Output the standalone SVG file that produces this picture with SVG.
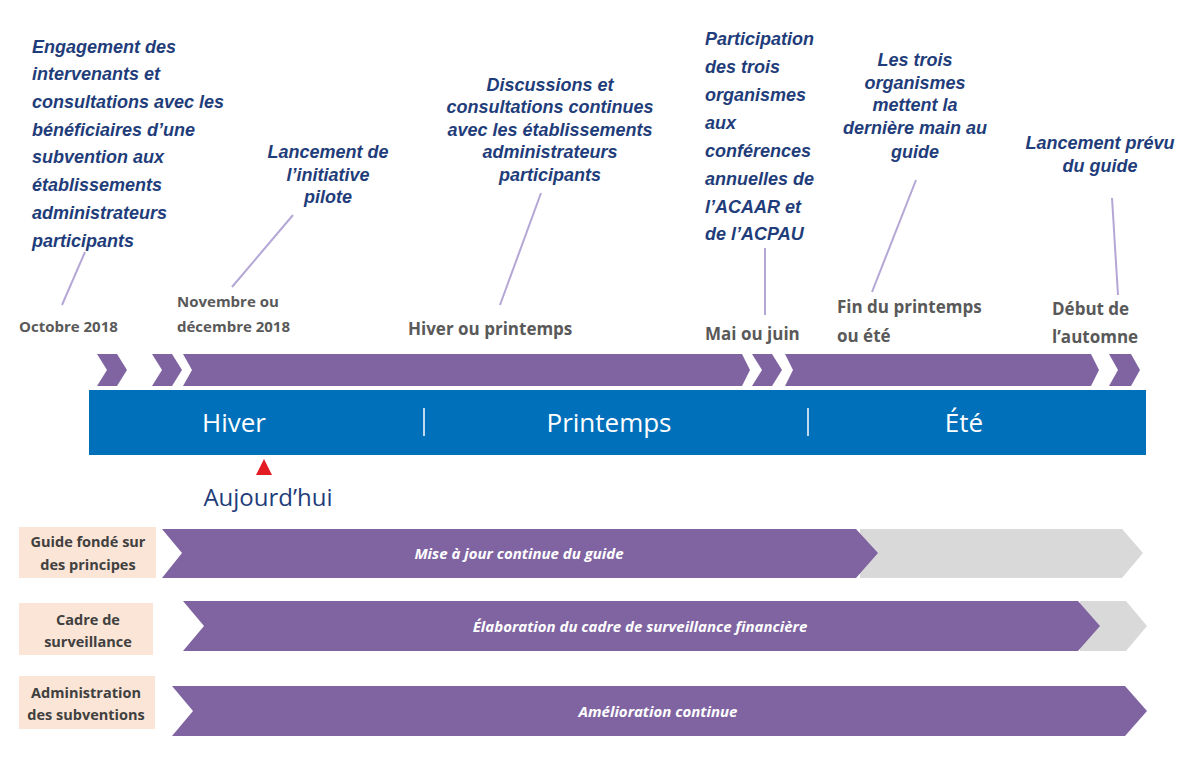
<svg xmlns="http://www.w3.org/2000/svg" width="1190" height="780" viewBox="0 0 1190 780">
<style>
.co{font-family:"Liberation Sans",Arial,sans-serif;font-weight:bold;font-style:italic;font-size:18px;fill:#1F3D7A}
.dt{font-family:"Open Sans","Liberation Sans",sans-serif;font-weight:bold;fill:#595959}
.ss{font-family:"Open Sans","Liberation Sans",sans-serif;font-size:26px;fill:#fff}
.pu{fill:#8064A2}
.gr{fill:#D9D9D9}
.rl{font-family:"Open Sans","Liberation Sans",sans-serif;font-weight:bold;font-size:14.5px;fill:#404040}
.bx{fill:#FBE5D6}
.at{font-family:"Open Sans","Liberation Sans",sans-serif;font-weight:bold;font-style:italic;font-size:15px;fill:#fff}
.ln{stroke:#B4A7D6;stroke-width:2;fill:none}
</style>
<rect width="1190" height="780" fill="#fff"/>
<g id="connectors">
<line class="ln" x1="62" y1="305" x2="85" y2="252"/>
<line class="ln" x1="232" y1="287" x2="293" y2="215"/>
<line class="ln" x1="500" y1="305" x2="541" y2="193"/>
<line class="ln" x1="765" y1="315" x2="765" y2="248"/>
<line class="ln" x1="872" y1="292" x2="916" y2="180"/>
<line class="ln" x1="1118" y1="295" x2="1112" y2="198"/>
</g>
<g id="callout1" class="co">
<text x="32" y="53">Engagement des</text>
<text x="32" y="80">intervenants et</text>
<text x="32" y="108">consultations avec les</text>
<text x="32" y="136">bénéficiaires d’une</text>
<text x="32" y="163">subvention aux</text>
<text x="32" y="191">établissements</text>
<text x="32" y="219">administrateurs</text>
<text x="32" y="247">participants</text>
</g>
<g id="callout2" class="co" text-anchor="middle">
<text x="328" y="158">Lancement de</text>
<text x="328" y="181">l’initiative</text>
<text x="328" y="203">pilote</text>
</g>
<g id="callout3" class="co" text-anchor="middle">
<text x="550" y="91">Discussions et</text>
<text x="550" y="113">consultations continues</text>
<text x="550" y="136">avec les établissements</text>
<text x="550" y="158">administrateurs</text>
<text x="550" y="181">participants</text>
</g>
<g id="callout4" class="co">
<text x="705" y="45">Participation</text>
<text x="705" y="73">des trois</text>
<text x="705" y="101">organismes</text>
<text x="705" y="129">aux</text>
<text x="705" y="157">conférences</text>
<text x="705" y="185">annuelles de</text>
<text x="705" y="213">l’ACAAR et</text>
<text x="705" y="240">de l’ACPAU</text>
</g>
<g id="callout5" class="co" text-anchor="middle">
<text x="915" y="66">Les trois</text>
<text x="915" y="89">organismes</text>
<text x="915" y="111">mettent la</text>
<text x="915" y="134">dernière main au</text>
<text x="915" y="158">guide</text>
</g>
<g id="callout6" class="co" text-anchor="middle">
<text x="1100" y="149">Lancement prévu</text>
<text x="1100" y="172">du guide</text>
</g>
<g id="dates" class="dt">
<text x="19" y="332" font-size="15">Octobre 2018</text>
<text x="177" y="307" font-size="15">Novembre ou</text>
<text x="177" y="332" font-size="15">décembre 2018</text>
<text x="408" y="335" font-size="17">Hiver ou printemps</text>
<text x="705" y="340" font-size="17">Mai ou juin</text>
<text x="837" y="313" font-size="17">Fin du printemps</text>
<text x="837" y="342" font-size="17">ou été</text>
<text x="1052" y="315" font-size="17">Début de</text>
<text x="1052" y="343" font-size="17">l’automne</text>
</g>
<g id="chevrons" class="pu">
<polygon points="97,354 117,354 127,370 117,386 97,386 107,370"/>
<polygon points="152,354 172,354 182,370 172,386 152,386 162,370"/>
<polygon points="183,354 742,354 750,370 742,386 183,386 192,370"/>
<polygon points="752,354 772,354 782,370 772,386 752,386 762,370"/>
<polygon points="785,354 1091,354 1099,370 1091,386 785,386 793,370"/>
<polygon points="1109,354 1131,354 1140,370 1131,386 1109,386 1118,370"/>
</g>
<g id="seasons">
<rect x="89" y="390" width="1057" height="65" fill="#0070BA"/>
<line x1="424" y1="408" x2="424" y2="436" stroke="#fff" stroke-width="1.5"/>
<line x1="808" y1="408" x2="808" y2="436" stroke="#fff" stroke-width="1.5"/>
<text class="ss" x="234" y="432" text-anchor="middle">Hiver</text>
<text class="ss" x="609" y="432" text-anchor="middle">Printemps</text>
<text class="ss" x="964" y="432" text-anchor="middle">Été</text>
</g>
<g id="today">
<polygon points="264,459 272,475 256,475" fill="#E31B23"/>
<text x="268" y="506" text-anchor="middle" font-family="'Open Sans','Liberation Sans',sans-serif" font-size="24" fill="#1F3D7A">Aujourd’hui</text>
</g>
<g id="row1">
<rect class="bx" x="19" y="527" width="137" height="51"/>
<text class="rl" x="88" y="547" text-anchor="middle">Guide fondé sur</text>
<text class="rl" x="88" y="570" text-anchor="middle">des principes</text>
<polygon class="gr" points="860,529 1122,529 1143,553 1122,578 860,578"/>
<polygon class="pu" points="162,529 856,529 878,553 856,578 162,578 182,553"/>
<text class="at" x="519" y="559" text-anchor="middle">Mise à jour continue du guide</text>
</g>
<g id="row2">
<rect class="bx" x="19" y="603" width="134" height="52"/>
<text class="rl" x="88" y="625" text-anchor="middle">Cadre de</text>
<text class="rl" x="88" y="647" text-anchor="middle">surveillance</text>
<polygon class="gr" points="1080,601 1126,601 1147,626 1126,651 1080,651"/>
<polygon class="pu" points="183,601 1078,601 1100,626 1078,651 183,651 204,626"/>
<text class="at" x="640" y="632" text-anchor="middle">Élaboration du cadre de surveillance financière</text>
</g>
<g id="row3">
<rect class="bx" x="19" y="676" width="136" height="53"/>
<text class="rl" x="86" y="698" text-anchor="middle">Administration</text>
<text class="rl" x="86" y="720" text-anchor="middle">des subventions</text>
<polygon class="pu" points="172,686 1125,686 1147,711 1125,736 172,736 193,711"/>
<text class="at" x="658" y="717" text-anchor="middle">Amélioration continue</text>
</g>
</svg>
